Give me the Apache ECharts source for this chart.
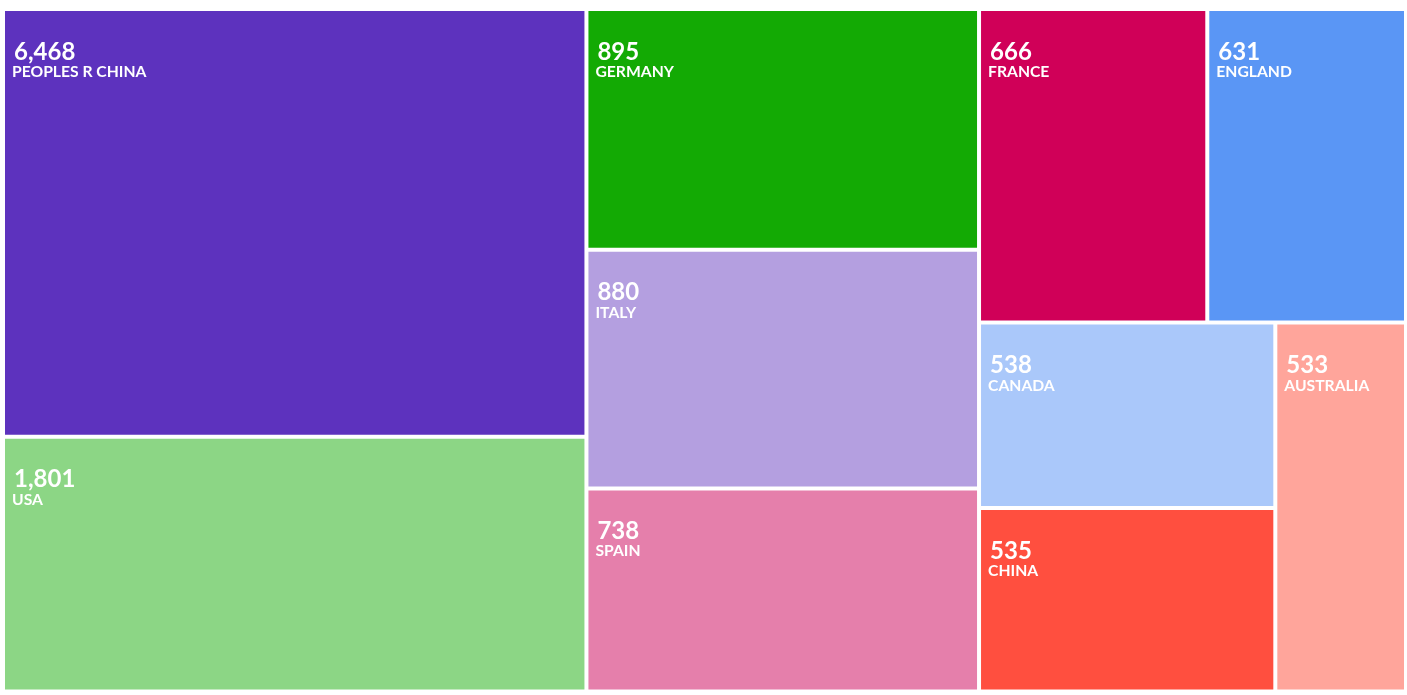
<!DOCTYPE html>
<html>
<head>
<meta charset="utf-8">
<script src="https://cdn.jsdelivr.net/npm/echarts@6/dist/echarts.min.js"></script>
<style>
html,body{margin:0;padding:0;background:#fff;}
#chart{width:1407px;height:695px;}
</style>
</head>
<body>
<div id="chart"></div>
<script>
const countries = ['PEOPLES R CHINA','USA','GERMANY','ITALY','SPAIN','FRANCE','ENGLAND','CANADA','CHINA','AUSTRALIA'];
const counts = [6468, 1801, 895, 880, 738, 666, 631, 538, 535, 533];
// relative tile areas as drawn in the reference
const tileSizes = [247.9, 147.7, 93.9, 93.1, 79.2, 71.1, 61.9, 54.6, 54.0, 47.9];
const colors = ['#5d32be','#8cd685','#13aa04','#b49fe0','#e57fab','#d00058','#5a96f5','#aac8fa','#ff4f3f','#ffa59b'];

const data = countries.map((c, i) => ({
  name: c,
  id: 'n' + i,
  value: [tileSizes[i], counts[i]],
  itemStyle: { color: colors[i] }
}));

const chart = echarts.init(document.getElementById('chart'));
chart.setOption({
  animation: false,
  series: [{
    type: 'treemap',
    left: 5, top: 11, width: 1399, height: 678.5,
    roam: false,
    nodeClick: false,
    sort: false,
    breadcrumb: { show: false },
    squareRatio: 0.5 * (1 + Math.sqrt(5)),
    itemStyle: { gapWidth: 4, borderWidth: 0, borderColor: '#fff' },
    levels: [
      { itemStyle: { gapWidth: 4, borderWidth: 0, borderColor: '#fff' } },
      { itemStyle: { borderWidth: 0, gapWidth: 0 } }
    ],
    label: {
      show: true,
      position: 'insideTopLeft',
      padding: [30, 0, 0, 7],
      formatter: p => '{v|' + p.value[1].toLocaleString('en-US') + '}\n{n|' + p.name + '}',
      rich: {
        v: { color: '#fff', fontFamily: 'Lato', fontWeight: 'bold', fontSize: 24, lineHeight: 22, padding: [0, 0, 0, 2] },
        n: { color: '#fff', fontFamily: 'Lato', fontWeight: 'bold', fontSize: 15.7, lineHeight: 18 }
      }
    },
    data: data
  }]
});
</script>
</body>
</html>
